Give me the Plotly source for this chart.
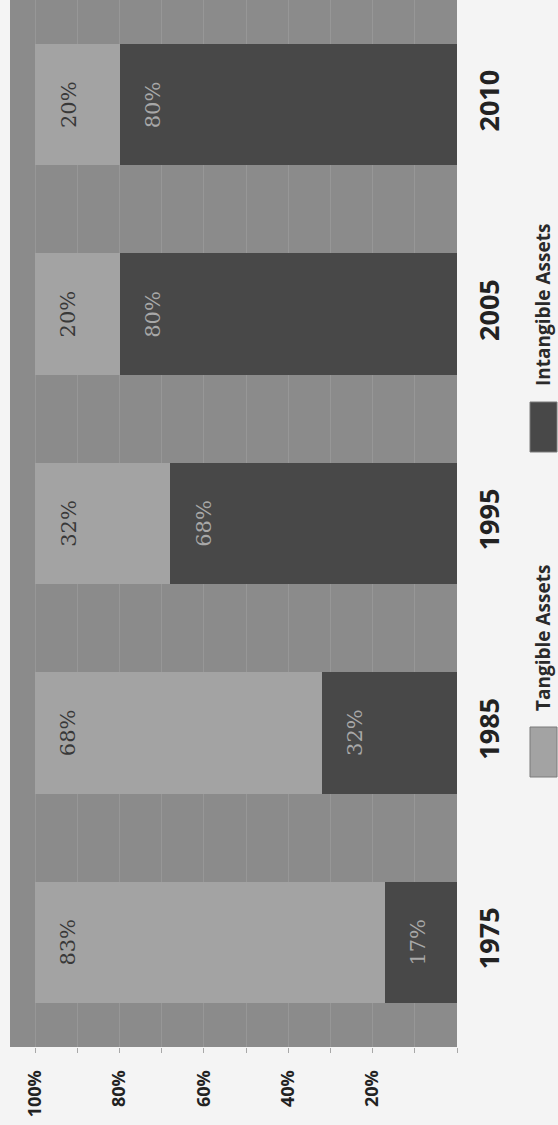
import plotly.graph_objects as go

# Share of company value: tangible vs intangible assets
years = ["1975", "1985", "1995", "2005", "2010"]
tangible = [83, 68, 32, 20, 20]
intangible = [17, 32, 68, 80, 80]
pct_ticks = [20, 40, 60, 80, 100]
pct_labels = ["20%", "40%", "60%", "80%", "100%"]
series_names = ["Tangible Assets", "Intangible Assets"]

W, H = 558, 1125
M_L, M_R, M_T, M_B = 10, 101, 0, 78
PLOT_W = W - M_L - M_R
PLOT_H = H - M_T - M_B

PAGE_BG = "#f4f4f4"
PLOT_BG = "#8b8b8b"
GRID = "#979797"
LIGHT = "#a3a3a3"
DARK = "#484848"


def px_x(px):
    return (px - M_L) / PLOT_W


def px_y(py):
    return 1 - (py - M_T) / PLOT_H


fig = go.Figure()
fig.add_bar(y=years, x=intangible, orientation="h", marker_color=DARK,
            marker_line_width=0, name=series_names[1], showlegend=False)
fig.add_bar(y=years, x=tangible, orientation="h", marker_color=LIGHT,
            marker_line_width=0, name=series_names[0], showlegend=False)

annotations = []
value_font = dict(family="DejaVu Serif", size=21)
for k, (t, i) in enumerate(zip(tangible, intangible)):
    annotations.append(dict(x=t + i, y=k, xref="x", yref="y", text=f"{t}%",
                            textangle=-90, showarrow=False, xanchor="left",
                            xshift=19, font=dict(value_font, color="#383838")))
    annotations.append(dict(x=i, y=k, xref="x", yref="y", text=f"{i}%",
                            textangle=-90, showarrow=False, xanchor="left",
                            xshift=19, font=dict(value_font, color="#a8a8a8")))

# Legend drawn as rotated labels with swatches in the right margin
legend_font = dict(family="Open Sans", size=19, color="#2a2a2a", weight="bold")
legend_items = [
    (series_names[0], LIGHT, 727, 777, 713),
    (series_names[1], DARK, 402, 452, 388),
]
shapes = []
for name, color, sw_top, sw_bot, text_bot in legend_items:
    shapes.append(dict(type="rect", xref="paper", yref="paper",
                       x0=px_x(530), x1=px_x(557), y0=px_y(sw_bot), y1=px_y(sw_top),
                       fillcolor=color, line=dict(color="#7a7a7a", width=1)))
    annotations.append(dict(x=px_x(543), y=px_y(text_bot), xref="paper", yref="paper",
                            text=name, textangle=-90, showarrow=False,
                            xanchor="center", yanchor="bottom", font=legend_font))

fig.update_layout(
    width=W, height=H,
    margin=dict(l=M_L, r=M_R, t=M_T, b=M_B),
    paper_bgcolor=PAGE_BG, plot_bgcolor=PLOT_BG,
    barmode="stack", bargap=0.42,
    annotations=annotations, shapes=shapes,
    showlegend=False,
)
fig.update_xaxes(
    range=[106, 0], tickvals=pct_ticks, ticktext=pct_labels,
    tickangle=-90, ticks="outside", ticklen=5, tickcolor="#a8a8a8",
    ticklabelstandoff=10,
    tickfont=dict(family="Open Sans", size=18, color="#222222", weight="bold"),
    showgrid=True, gridcolor=GRID, gridwidth=1, zeroline=False,
    minor=dict(dtick=10, showgrid=True, gridcolor=GRID, ticks="outside",
               ticklen=5, tickcolor="#a8a8a8"),
    showline=False,
)
fig.update_yaxes(
    type="category", side="right", tickangle=-90, range=[-0.5, 4.5],
    categoryorder="array", categoryarray=years,
    ticks="", ticklabelstandoff=14,
    tickfont=dict(family="Open Sans", size=27, color="#222222", weight="bold"),
    showgrid=False, zeroline=False, showline=False,
)

fig.write_html("out.html")
